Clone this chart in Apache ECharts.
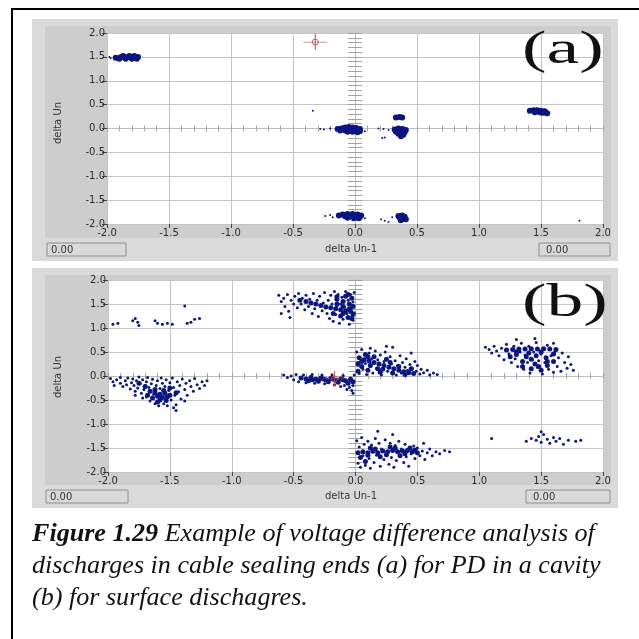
<!DOCTYPE html>
<html>
<head>
<meta charset="utf-8">
<script src="https://cdn.jsdelivr.net/npm/echarts@6/dist/echarts.min.js"></script>
<style>
html, body { margin: 0; padding: 0; background: #fff; }
#chart { width: 639px; height: 639px; }
</style>
</head>
<body>
<div id="chart"></div>
<script>
// shared axis range for both LabVIEW style graphs
const axisMin = -2, axisMax = 2, axisStep = 0.5;
const axisTitleX = 'delta Un-1';
const axisTitleY = 'delta Un';
const readoutText = '0.00';
const panelTags = ['(a)', '(b)'];
const captionBold = 'Figure 1.29';
const captionLines = [
  ' Example of voltage difference analysis of',
  'discharges in cable sealing ends (a) for PD in a cavity',
  '(b) for surface dischagres.'
];

// cursor positions
const cursorA = [[-0.32, 1.81]];
const cursorB = [[-0.17, -0.06]];

// ---- graph (a): PD in a cavity ----
const aBlobs = [
  // top left
  [-1.93,1.48],[-1.89,1.49],[-1.86,1.5],[-1.83,1.5],[-1.8,1.49],[-1.77,1.48],[-1.75,1.5],[-1.9,1.46],
  [-1.85,1.46],[-1.8,1.46],[-1.76,1.46],[-1.87,1.52],[-1.82,1.52],[-1.78,1.52],
  // around origin
  [-0.14,-0.01],[-0.11,0.0],[-0.08,0.02],[-0.05,0.03],[-0.02,0.02],[0.01,0.01],[0.04,-0.01],[-0.12,-0.04],
  [-0.08,-0.04],[-0.04,-0.03],[0.0,-0.04],[0.04,-0.05],[-0.06,-0.07],[-0.02,-0.07],[0.02,-0.08],
  // bottom centre
  [-0.13,-1.82],[-0.1,-1.8],[-0.06,-1.79],[-0.02,-1.79],[0.02,-1.8],[0.05,-1.82],[-0.08,-1.84],[-0.04,-1.83],
  [0.0,-1.84],[0.04,-1.85],[-0.06,-1.87],[-0.01,-1.88],[0.03,-1.88],
  // right of origin
  [0.32,-0.02],[0.35,0.0],[0.38,-0.01],[0.41,-0.03],[0.33,-0.07],[0.37,-0.06],[0.4,-0.08],[0.35,-0.11],
  [0.39,-0.13],[0.37,-0.16],[0.33,0.23],[0.36,0.24],[0.38,0.23],
  // bottom right of origin
  [0.35,-1.83],[0.38,-1.82],[0.4,-1.85],[0.36,-1.87],[0.39,-1.89],[0.37,-1.92],[0.41,-1.9],
  // far right
  [1.41,0.37],[1.44,0.38],[1.47,0.38],[1.5,0.37],[1.53,0.36],[1.45,0.34],[1.49,0.34],[1.52,0.33],[1.55,0.32]
];
const aStrays = [
  [-1.97,1.47],[-1.98,1.5],[-0.2,0.0],[-0.25,-0.02],[-0.28,-0.01],[0.08,-0.06],
  [-0.2,-1.81],[-0.24,-1.83],[-0.18,-1.86],[0.08,-1.88],
  [0.22,-0.2],[0.24,-0.19],[0.19,0.0],[0.23,-0.01],[0.27,-0.03],
  [0.21,-1.9],[0.24,-1.93],[0.27,-1.96],[0.3,-1.86],
  [1.56,0.3],[1.5,0.29],[1.81,-1.93],[-0.34,0.37]
];

// ---- graph (b): surface discharges ----
const bCore = [
  // left lower cloud
  [-1.66,-0.32],[-1.62,-0.35],[-1.58,-0.38],[-1.54,-0.36],[-1.6,-0.42],[-1.56,-0.45],[-1.52,-0.43],[-1.64,-0.46],
  [-1.58,-0.5],[-1.53,-0.51],[-1.68,-0.4],[-1.5,-0.4],[-1.62,-0.28],[-1.55,-0.3],[-1.6,-0.54],
  [-1.7,-0.22],[-1.5,-0.25],[-1.45,-0.35],[-1.75,-0.15],
  // upper middle band
  [-0.45,1.58],[-0.4,1.55],[-0.36,1.52],[-0.32,1.5],[-0.28,1.47],[-0.24,1.44],[-0.2,1.42],[-0.16,1.4],
  [-0.12,1.38],[-0.08,1.36],[-0.04,1.35],[-0.15,1.6],[-0.1,1.55],[-0.05,1.5],[-0.03,1.62],[-0.08,1.66],
  [-0.12,1.25],[-0.06,1.22],[-0.02,1.28],[-0.18,1.3],
  [-0.15,1.5],[-0.1,1.45],[-0.05,1.4],[-0.02,1.45],[-0.15,1.65],[-0.06,1.7],[-0.1,1.3],[-0.03,1.2],
  // band left of origin
  [-0.44,-0.04],[-0.4,-0.06],[-0.36,-0.03],[-0.32,-0.07],[-0.28,-0.04],[-0.24,-0.08],[-0.2,-0.05],[-0.16,-0.09],
  [-0.12,-0.06],[-0.08,-0.1],[-0.04,-0.07],[-0.02,-0.12],[-0.38,-0.1],[-0.3,-0.11],[-0.22,-0.12],[-0.14,-0.13],[-0.06,-0.15],
  [-0.35,-0.08],[-0.26,-0.06],[-0.18,-0.07],[-0.1,-0.08],
  // right of origin
  [0.03,0.38],[0.07,0.34],[0.11,0.31],[0.15,0.28],[0.19,0.25],[0.23,0.22],[0.27,0.18],[0.31,0.15],
  [0.35,0.12],[0.39,0.09],[0.43,0.07],[0.47,0.05],[0.05,0.2],[0.1,0.12],[0.2,0.08],[0.3,0.06],
  [0.08,0.45],[0.15,0.4],[0.25,0.35],[0.02,0.1],[0.4,0.03],[0.22,0.14],
  [0.05,0.3],[0.12,0.22],[0.18,0.15],[0.28,0.28],[0.35,0.2],[0.45,0.15],[0.1,0.4],[0.02,0.25],
  // bottom stripe
  [0.02,-1.6],[0.06,-1.58],[0.1,-1.6],[0.14,-1.57],[0.18,-1.6],[0.22,-1.56],[0.26,-1.58],[0.3,-1.55],
  [0.34,-1.58],[0.38,-1.56],[0.42,-1.55],[0.46,-1.58],[0.5,-1.6],[0.04,-1.7],[0.12,-1.5],[0.2,-1.68],
  [0.28,-1.48],[0.36,-1.66],[0.44,-1.5],[0.08,-1.78],
  [0.1,-1.65],[0.25,-1.64],[0.4,-1.62],[0.16,-1.52],[0.32,-1.5],[0.48,-1.54],
  // right cloud
  [1.22,0.54],[1.27,0.55],[1.32,0.56],[1.37,0.56],[1.42,0.57],[1.47,0.56],[1.52,0.57],[1.57,0.56],
  [1.62,0.55],[1.3,0.45],[1.38,0.4],[1.46,0.42],[1.54,0.38],[1.35,0.3],[1.45,0.25],[1.55,0.22],
  [1.42,0.15],[1.5,0.12],[1.6,0.3],[1.25,0.4],
  [1.3,0.5],[1.4,0.48],[1.5,0.5],[1.6,0.46],[1.35,0.2],[1.48,0.2],[1.42,0.35],[1.55,0.3]
];
const bSpread = [
  // left lower cloud
  [-1.98,-0.05],[-1.96,-0.12],[-1.95,-0.2],[-1.93,-0.08],[-1.9,-0.15],[-1.9,-0.03],[-1.88,-0.22],[-1.86,-0.1],
  [-1.85,-0.18],[-1.84,-0.04],[-1.82,-0.27],[-1.81,-0.14],[-1.8,-0.06],[-1.79,-0.2],[-1.78,-0.32],[-1.77,-0.1],
  [-1.76,-0.25],[-1.75,-0.02],[-1.74,-0.16],[-1.73,-0.36],[-1.72,-0.08],[-1.71,-0.28],[-1.7,-0.2],[-1.69,-0.12],
  [-1.69,-0.44],[-1.68,-0.03],[-1.67,-0.24],[-1.66,-0.52],[-1.65,-0.16],[-1.64,-0.07],[-1.63,-0.38],[-1.62,-0.58],
  [-1.61,-0.2],[-1.6,-0.1],[-1.59,-0.62],[-1.58,-0.26],[-1.57,-0.04],[-1.56,-0.15],[-1.55,-0.58],[-1.54,-0.22],
  [-1.53,-0.08],[-1.52,-0.62],[-1.51,-0.3],[-1.5,-0.14],[-1.49,-0.5],[-1.48,-0.04],[-1.47,-0.24],[-1.46,-0.4],
  [-1.45,-0.6],[-1.44,-0.12],[-1.43,-0.33],[-1.42,-0.2],[-1.41,-0.48],[-1.4,-0.06],[-1.38,-0.28],[-1.37,-0.15],
  [-1.36,-0.4],[-1.34,-0.1],[-1.33,-0.22],[-1.31,-0.32],[-1.3,-0.05],[-1.28,-0.18],[-1.26,-0.26],[-1.24,-0.12],
  [-1.22,-0.2],[-1.2,-0.1],[-1.45,-0.72],[-1.47,-0.66],[-1.38,-0.52],[-1.72,-0.46],[-1.78,-0.4],
  // sparse row near 1.1
  [-1.96,1.08],[-1.92,1.1],[-1.8,1.15],[-1.78,1.2],[-1.76,1.12],[-1.75,1.05],[-1.62,1.15],[-1.6,1.1],
  [-1.56,1.08],[-1.52,1.1],[-1.48,1.08],[-1.38,1.46],[-1.36,1.1],[-1.33,1.12],[-1.3,1.18],[-1.26,1.2],
  // upper middle band
  [-0.62,1.68],[-0.6,1.55],[-0.58,1.62],[-0.57,1.45],[-0.55,1.7],[-0.54,1.35],[-0.52,1.58],[-0.5,1.5],
  [-0.49,1.66],[-0.47,1.42],[-0.46,1.72],[-0.44,1.5],[-0.43,1.62],[-0.41,1.38],[-0.4,1.68],[-0.38,1.45],
  [-0.37,1.6],[-0.35,1.3],[-0.34,1.72],[-0.33,1.4],[-0.31,1.58],[-0.3,1.24],[-0.29,1.66],[-0.27,1.36],
  [-0.26,1.52],[-0.25,1.74],[-0.23,1.3],[-0.22,1.58],[-0.21,1.2],[-0.2,1.68],[-0.19,1.5],[-0.18,1.14],
  [-0.17,1.76],[-0.16,1.28],[-0.15,1.46],[-0.14,1.7],[-0.13,1.1],[-0.12,1.5],[-0.11,1.64],[-0.1,1.18],
  [-0.09,1.44],[-0.08,1.76],[-0.07,1.3],[-0.06,1.58],[-0.05,1.08],[-0.04,1.7],[-0.03,1.42],[-0.02,1.16],
  [-0.02,1.54],[-0.01,1.74],[-0.01,1.32],[-0.6,1.3],[-0.53,1.22],
  // band left of origin
  [-0.58,0.02],[-0.55,-0.03],[-0.52,0.0],[-0.5,-0.08],[-0.48,0.03],[-0.46,-0.12],[-0.42,0.02],[-0.4,-0.14],
  [-0.35,0.03],[-0.33,-0.15],[-0.27,0.02],[-0.25,-0.16],[-0.19,0.02],[-0.17,-0.18],[-0.1,0.01],[-0.09,-0.2],
  [-0.05,-0.24],[-0.03,-0.3],[-0.02,-0.36],[-0.07,-0.28],[-0.01,0.02],[-0.12,-0.22],[-0.02,-0.2],
  // right of origin
  [0.01,0.5],[0.02,0.28],[0.03,0.05],[0.05,0.55],[0.06,0.14],[0.08,0.26],[0.09,0.03],[0.11,0.48],
  [0.12,0.2],[0.13,0.36],[0.14,0.06],[0.16,0.52],[0.17,0.16],[0.18,0.34],[0.2,0.44],[0.21,0.02],
  [0.23,0.3],[0.24,0.5],[0.26,0.1],[0.28,0.4],[0.29,0.25],[0.3,0.6],[0.32,0.32],[0.33,0.02],
  [0.34,0.22],[0.36,0.42],[0.37,0.06],[0.38,0.28],[0.4,0.18],[0.41,0.36],[0.42,0.12],[0.44,0.24],
  [0.45,0.48],[0.46,0.16],[0.48,0.3],[0.49,0.1],[0.5,0.22],[0.52,0.04],[0.53,0.14],[0.55,0.07],
  [0.58,0.12],[0.6,0.02],[0.63,0.06],[0.66,0.03],[0.25,0.62],[0.12,0.58],
  // bottom stripe
  [0.01,-1.35],[0.02,-1.82],[0.03,-1.48],[0.04,-1.9],[0.05,-1.28],[0.06,-1.66],[0.07,-1.42],[0.08,-1.86],
  [0.1,-1.36],[0.11,-1.72],[0.12,-1.92],[0.13,-1.44],[0.15,-1.8],[0.16,-1.3],[0.17,-1.65],[0.19,-1.4],
  [0.2,-1.88],[0.21,-1.52],[0.23,-1.74],[0.24,-1.33],[0.25,-1.62],[0.27,-1.84],[0.28,-1.4],[0.29,-1.7],
  [0.31,-1.9],[0.32,-1.45],[0.33,-1.76],[0.35,-1.36],[0.37,-1.52],[0.39,-1.8],[0.4,-1.42],[0.41,-1.68],
  [0.43,-1.88],[0.45,-1.62],[0.47,-1.46],[0.48,-1.72],[0.5,-1.5],[0.52,-1.66],[0.54,-1.56],[0.56,-1.74],
  [0.58,-1.6],[0.6,-1.52],[0.62,-1.66],[0.65,-1.58],[0.68,-1.62],[0.72,-1.55],[0.76,-1.58],[0.55,-1.4],
  [0.3,-1.22],[0.18,-1.15],
  // right cloud
  [1.05,0.6],[1.08,0.55],[1.1,0.48],[1.12,0.62],[1.14,0.52],[1.16,0.42],[1.18,0.58],[1.2,0.34],
  [1.22,0.66],[1.24,0.46],[1.26,0.28],[1.28,0.62],[1.29,0.36],[1.31,0.2],[1.33,0.5],[1.34,0.68],
  [1.36,0.14],[1.37,0.44],[1.39,0.28],[1.4,0.62],[1.41,0.06],[1.43,0.34],[1.44,0.5],[1.46,0.7],
  [1.47,0.18],[1.48,0.32],[1.5,0.46],[1.51,0.04],[1.53,0.28],[1.55,0.64],[1.56,0.14],[1.58,0.42],
  [1.6,0.08],[1.61,0.5],[1.63,0.2],[1.64,0.38],[1.66,0.1],[1.67,0.48],[1.69,0.28],[1.71,0.16],
  [1.72,0.4],[1.74,0.24],[1.76,0.12],[1.3,0.76],[1.45,0.78],[1.6,0.68],
  // sparse lower right
  [1.1,-1.3],[1.38,-1.36],[1.42,-1.3],[1.46,-1.34],[1.48,-1.26],[1.5,-1.38],[1.52,-1.22],[1.55,-1.32],
  [1.57,-1.4],[1.6,-1.28],[1.62,-1.36],[1.65,-1.3],[1.68,-1.42],[1.72,-1.34],[1.78,-1.36],[1.82,-1.34],[1.5,-1.16]
];

const navy = '#0a1580';
const cursorColor = '#b24a4a';
const sans = 'DejaVu Sans';
const serif = 'Liberation Serif';

const grids = [
  { left: 107, top: 33, width: 496, height: 191, show: true, backgroundColor: '#fff', borderWidth: 0, outerBoundsMode: 'none' },
  { left: 108, top: 280, width: 495, height: 192, show: true, backgroundColor: '#fff', borderWidth: 0, outerBoundsMode: 'none' }
];

function mainAxis(g, pos) {
  return {
    gridIndex: g, type: 'value', min: axisMin, max: axisMax, interval: axisStep, position: pos,
    axisLine: { show: false, onZero: false },
    axisTick: { show: true, length: pos === 'left' ? 5 : 4, lineStyle: { color: '#444' } },
    axisLabel: {
      show: true, margin: pos === 'left' ? 2 : 4, fontSize: 10, fontFamily: sans, color: '#2a2a2a',
      showMinLabel: true, showMaxLabel: true, formatter: v => v.toFixed(1)
    },
    splitLine: { show: true, lineStyle: { color: '#c4c4c4', width: 1 } }
  };
}
function zeroAxis(g, pos, other, inside, len) {
  return {
    gridIndex: g, type: 'value', min: axisMin, max: axisMax, interval: axisStep, position: pos,
    axisLine: { show: true, onZero: true, onZeroAxisIndex: other, lineStyle: { color: '#bdbdbd' } },
    axisTick: { show: true, inside: inside, length: len, lineStyle: { color: '#a2a2a2' } },
    minorTick: { show: true, splitNumber: 5, length: len, lineStyle: { color: '#a2a2a2' } },
    axisLabel: { show: false },
    splitLine: { show: false }
  };
}

const xAxes = [], yAxes = [];
[0, 1].forEach(g => {
  const base = g * 3;
  xAxes.push(mainAxis(g, 'bottom'), zeroAxis(g, 'bottom', base, true, 3), zeroAxis(g, 'bottom', base, false, 3));
  yAxes.push(mainAxis(g, 'left'), zeroAxis(g, 'left', base, true, 7), zeroAxis(g, 'left', base, false, 7));
});

function dots(g, data, size) {
  return {
    type: 'scatter', xAxisIndex: g * 3, yAxisIndex: g * 3, data: data,
    symbolSize: size, itemStyle: { color: navy, opacity: 1 }, silent: true, z: 3
  };
}
function cursor(g, data) {
  return [
    {
      type: 'scatter', xAxisIndex: g * 3, yAxisIndex: g * 3, data: data,
      symbol: 'path://M0,8H24M12,0V16', symbolSize: [24, 16], silent: true, z: 6,
      itemStyle: { color: 'transparent', borderColor: cursorColor, borderWidth: 1 }
    },
    {
      type: 'scatter', xAxisIndex: g * 3, yAxisIndex: g * 3, data: data,
      symbol: 'circle', symbolSize: 6, silent: true, z: 6,
      itemStyle: { color: 'transparent', borderColor: cursorColor, borderWidth: 1 }
    }
  ];
}

// gray LabVIEW panels and the text around them
const panels = [
  { top: 19, bottom: 261, innerBottom: 238, boxY: 243, boxL: [47, 79], boxR: [539, 71], tagY: 51, nameY: 123, titleY: 249 },
  { top: 268, bottom: 508, innerBottom: 485, boxY: 490, boxL: [46, 82], boxR: [526, 84], tagY: 304, nameY: 377, titleY: 496 }
];
const graphics = [];
panels.forEach((p, i) => {
  graphics.push(
    { type: 'rect', z: -10, shape: { x: 32, y: p.top, width: 586, height: p.bottom - p.top }, style: { fill: '#dadada' } },
    { type: 'rect', z: -9, shape: { x: 45, y: p.top + 7, width: 566, height: p.innerBottom - p.top - 7 }, style: { fill: '#cdcdcd' } },
    { type: 'rect', z: 10, shape: { x: p.boxL[0], y: p.boxY, width: p.boxL[1], height: 13 }, style: { fill: '#d9d9d9', stroke: '#8e8e8e', lineWidth: 1 } },
    { type: 'rect', z: 10, shape: { x: p.boxR[0], y: p.boxY, width: p.boxR[1], height: 13 }, style: { fill: '#d9d9d9', stroke: '#8e8e8e', lineWidth: 1 } },
    { type: 'text', z: 11, x: p.boxL[0] + 4, y: p.boxY + 7, style: { text: readoutText, font: '10px "' + sans + '"', fill: '#333', verticalAlign: 'middle' } },
    { type: 'text', z: 11, x: p.boxR[0] + 7, y: p.boxY + 7, style: { text: readoutText, font: '10px "' + sans + '"', fill: '#333', verticalAlign: 'middle' } },
    { type: 'text', z: 11, x: 351, y: p.titleY, style: { text: axisTitleX, font: '10px "' + sans + '"', fill: '#333', align: 'center', verticalAlign: 'middle' } },
    { type: 'text', z: 11, x: 58, y: p.nameY, rotation: Math.PI / 2, style: { text: axisTitleY, font: '10px "' + sans + '"', fill: '#333', align: 'center', verticalAlign: 'middle' } },
    { type: 'text', z: 12, x: 522, y: p.tagY, scaleX: 1.6, style: { text: panelTags[i], font: '46px "' + serif + '"', fill: '#111', align: 'left', verticalAlign: 'middle' } }
  );
});
// page frame (top and left edges)
graphics.push(
  { type: 'line', z: 20, shape: { x1: 11, y1: 9, x2: 639, y2: 9 }, style: { stroke: '#000', lineWidth: 2 } },
  { type: 'line', z: 20, shape: { x1: 12, y1: 8, x2: 12, y2: 639 }, style: { stroke: '#000', lineWidth: 2 } }
);
// caption
const captionY = [534, 566, 598];
const captionFont = 'italic 26.1px "' + serif + '"';
graphics.push({
  type: 'text', z: 20, x: 32, y: captionY[0],
  style: {
    text: '{b|' + captionBold + '}' + captionLines[0], font: captionFont, fill: '#111', verticalAlign: 'middle',
    rich: { b: { font: 'italic bold 26.1px "' + serif + '"', fill: '#111' } }
  }
});
for (let i = 1; i < captionLines.length; i++) {
  graphics.push({ type: 'text', z: 20, x: 32, y: captionY[i], style: { text: captionLines[i], font: captionFont, fill: '#111', verticalAlign: 'middle' } });
}

const chart = echarts.init(document.getElementById('chart'));
chart.setOption({
  animation: false,
  backgroundColor: '#fff',
  grid: grids,
  xAxis: xAxes,
  yAxis: yAxes,
  graphic: graphics,
  series: [
    dots(0, aBlobs, 6),
    dots(0, aStrays, 2),
    dots(1, bSpread, 3),
    dots(1, bCore, 5),
    ...cursor(0, cursorA),
    ...cursor(1, cursorB)
  ]
});
</script>
</body>
</html>
